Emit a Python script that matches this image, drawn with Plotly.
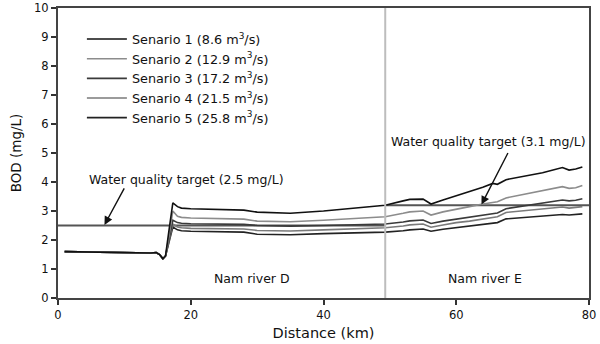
import plotly.graph_objects as go

# Shared upstream segment (all scenarios identical)
x_up = [1, 3, 5, 8, 10, 12, 14, 14.8, 15.3, 15.8, 16.2]
y_up = [1.6, 1.59, 1.57, 1.56, 1.55, 1.54, 1.55, 1.57, 1.5, 1.35, 1.45]

x_down = [16.7, 17.3, 18.0, 18.6, 20, 25, 28, 30, 35, 40, 45, 49.3, 52, 53, 55, 56.2,
          58, 60, 62, 64, 65.5, 66.2, 67.5, 70, 73, 76, 77, 78, 79]
s1 = [2.3, 3.28, 3.15, 3.1, 3.08, 3.05, 3.03, 2.96, 2.92, 3.0, 3.1, 3.2, 3.35, 3.4, 3.41, 3.24,
      3.38, 3.52, 3.66, 3.82, 3.95, 3.92, 4.08, 4.18, 4.32, 4.5, 4.41, 4.45, 4.52]
s2 = [2.1, 3.0, 2.82, 2.78, 2.76, 2.74, 2.72, 2.65, 2.63, 2.68, 2.74, 2.8, 2.92, 2.97, 3.0, 2.86,
      2.97, 3.07, 3.15, 3.24, 3.3, 3.32, 3.45, 3.56, 3.7, 3.84, 3.78, 3.8, 3.88]
s3 = [2.0, 2.68, 2.6, 2.58, 2.56, 2.55, 2.54, 2.5, 2.48, 2.5, 2.52, 2.55, 2.62, 2.66, 2.69, 2.57,
      2.65, 2.72, 2.78, 2.84, 2.9, 2.93, 3.08, 3.17, 3.27, 3.38, 3.35, 3.37, 3.42]
s4 = [1.95, 2.55, 2.45, 2.42, 2.4, 2.39, 2.38, 2.33, 2.31, 2.35, 2.38, 2.42, 2.48, 2.52, 2.55, 2.44,
      2.52, 2.6, 2.65, 2.71, 2.77, 2.8, 2.95, 3.0, 3.07, 3.14, 3.1, 3.12, 3.15]
s5 = [1.9, 2.45, 2.35, 2.32, 2.3, 2.29, 2.27, 2.2, 2.18, 2.22, 2.25, 2.27, 2.32, 2.35, 2.38, 2.3,
      2.37, 2.43, 2.48, 2.53, 2.58, 2.6, 2.73, 2.78, 2.83, 2.88, 2.86, 2.87, 2.9]

names = ["Senario 1 (8.6 m<sup>3</sup>/s)", "Senario 2 (12.9 m<sup>3</sup>/s)",
         "Senario 3 (17.2 m<sup>3</sup>/s)", "Senario 4 (21.5 m<sup>3</sup>/s)",
         "Senario 5 (25.8 m<sup>3</sup>/s)"]
colors = ["#111111", "#8c8c8c", "#3a3a3a", "#7a7a7a", "#222222"]
series = [s1, s2, s3, s4, s5]

# Water quality targets
target_d_x = [0, 49.3]
target_d_y = [2.5, 2.5]
target_e_x = [49.3, 80.3]
target_e_y = [3.2, 3.2]
boundary_x = 49.3

FONT = "DejaVu Sans, Liberation Sans, Arial, sans-serif"

fig = go.Figure()

fig.add_trace(go.Scatter(x=target_d_x, y=target_d_y, mode="lines",
                         line=dict(color="#555555", width=2), showlegend=False, cliponaxis=False))
fig.add_trace(go.Scatter(x=target_e_x, y=target_e_y, mode="lines",
                         line=dict(color="#555555", width=2), showlegend=False, cliponaxis=False))

for i in range(4, -1, -1):
    fig.add_trace(go.Scatter(x=x_up + x_down, y=y_up + series[i], mode="lines",
                             name=names[i], line=dict(color=colors[i], width=1.6),
                             legendrank=i + 1))

fig.add_shape(type="line", x0=boundary_x, x1=boundary_x, y0=0, y1=10, xref="x", yref="y",
              line=dict(color="#bdbdbd", width=2))

# annotations
fig.add_annotation(x=19.4, y=4.07, text="Water quality target (2.5 mg/L)", showarrow=False,
                   font=dict(size=12.5, color="#111", family=FONT), xref="x", yref="y")
fig.add_annotation(x=7, y=2.52, ax=10.1, ay=3.83, axref="x", ayref="y", xref="x", yref="y",
                   text="", showarrow=True, arrowhead=2, arrowsize=1.2, arrowwidth=1.4,
                   arrowcolor="#111")
fig.add_annotation(x=64.9, y=5.38, text="Water quality target (3.1 mg/L)", showarrow=False,
                   font=dict(size=12.5, color="#111", family=FONT), xref="x", yref="y")
fig.add_annotation(x=63.8, y=3.22, ax=67.9, ay=5.05, axref="x", ayref="y", xref="x", yref="y",
                   text="", showarrow=True, arrowhead=2, arrowsize=1.2, arrowwidth=1.4,
                   arrowcolor="#111")
fig.add_annotation(x=29.2, y=0.67, text="Nam river D", showarrow=False,
                   font=dict(size=12.5, color="#111", family=FONT))
fig.add_annotation(x=64.3, y=0.67, text="Nam river E", showarrow=False,
                   font=dict(size=12.5, color="#111", family=FONT))

fig.update_layout(
    width=600, height=344,
    margin=dict(l=58, r=11, t=8, b=46),
    paper_bgcolor="white", plot_bgcolor="white",
    font=dict(family=FONT, size=11.5, color="#111"),
    legend=dict(x=0.045, y=0.944, xanchor="left", yanchor="top",
                bgcolor="rgba(0,0,0,0)", font=dict(size=12.8, family=FONT),
                itemwidth=40, tracegroupgap=0),
)
fig.update_xaxes(range=[0, 80], tickvals=[0, 20, 40, 60, 80], ticks="outside", ticklen=5,
                 tickwidth=1.5, tickcolor="#333", showline=True, linecolor="#444", linewidth=2,
                 mirror=True, showgrid=False, zeroline=False, automargin=False,
                 title=dict(text="Distance (km)", font=dict(size=14.5, family=FONT), standoff=7),
                 tickfont=dict(size=11.5, family=FONT))
fig.update_yaxes(range=[0, 10], tickvals=list(range(0, 11)), ticks="outside", ticklen=5,
                 tickwidth=1.5, tickcolor="#333", showline=True, linecolor="#444", linewidth=2,
                 mirror=True, showgrid=False, zeroline=False, automargin=False,
                 title=dict(text="BOD (mg/L)", font=dict(size=13.5, family=FONT), standoff=9),
                 tickfont=dict(size=11.5, family=FONT))

fig.write_html("out.html")
